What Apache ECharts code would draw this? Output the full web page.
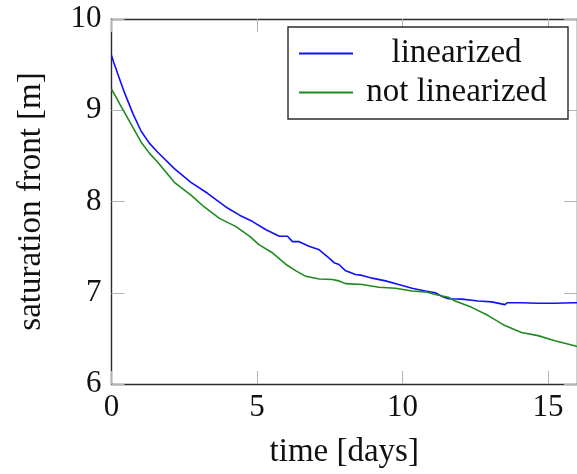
<!DOCTYPE html>
<html>
<head>
<meta charset="utf-8">
<script src="https://cdn.jsdelivr.net/npm/echarts@6/dist/echarts.min.js"></script>
<style>
  html, body { margin: 0; padding: 0; background: #fff; }
  #chart { width: 577px; height: 474px; }
</style>
</head>
<body>
<div id="chart"></div>
<script>
// Time axis samples (days) and the saturation front position (m) for each model
const timeLinearized = [0, 0.08, 0.16, 0.28, 0.45, 0.74, 1.02, 1.30, 1.59, 2.16, 2.73, 3.30, 3.93, 4.40, 4.85, 5.31, 5.77, 6.05, 6.22, 6.45, 6.79, 7.14, 7.48, 7.65, 7.82, 8.05, 8.39, 8.62, 8.96, 9.42, 9.87, 10.33, 10.79, 11.13, 11.36, 11.58, 12.04, 12.61, 13.07, 13.52, 13.60, 14.09, 14.66, 15.24, 15.92, 16.0];
const frontLinearized = [9.60, 9.52, 9.45, 9.34, 9.19, 8.96, 8.77, 8.64, 8.54, 8.36, 8.21, 8.09, 7.94, 7.85, 7.78, 7.69, 7.62, 7.62, 7.56, 7.56, 7.51, 7.47, 7.38, 7.33, 7.31, 7.24, 7.20, 7.19, 7.16, 7.13, 7.09, 7.05, 7.02, 7.00, 6.96, 6.935, 6.93, 6.91, 6.90, 6.87, 6.89, 6.89, 6.885, 6.885, 6.89, 6.89];

const timeNotLinearized = [0, 0.16, 0.28, 0.45, 0.74, 1.02, 1.30, 1.59, 2.16, 2.73, 3.19, 3.71, 4.28, 4.74, 5.08, 5.54, 6.00, 6.34, 6.68, 7.14, 7.59, 7.82, 8.05, 8.62, 9.19, 9.76, 10.33, 10.79, 11.13, 11.58, 11.81, 12.38, 12.95, 13.52, 14.09, 14.66, 15.24, 15.92, 16.0];
const frontNotLinearized = [9.23, 9.14, 9.07, 8.975, 8.81, 8.65, 8.53, 8.43, 8.21, 8.07, 7.94, 7.815, 7.725, 7.62, 7.525, 7.435, 7.31, 7.24, 7.18, 7.15, 7.145, 7.13, 7.10, 7.09, 7.06, 7.05, 7.02, 7.01, 6.98, 6.95, 6.91, 6.84, 6.75, 6.64, 6.565, 6.53, 6.475, 6.42, 6.41];

const xTicks = [0, 5, 10, 15];
const yTicks = [6, 7, 8, 9, 10];

const seriesNames = ['linearized', 'not linearized'];

const pair = (xs, ys) => xs.map((x, i) => [x, ys[i]]);

const serif = '"Liberation Serif", "DejaVu Serif", serif';
const tickStyle = { show: true, inside: true, length: 13, lineStyle: { color: '#b4b4b4', width: 1 } };
const frameLine = { show: true, onZero: false, lineStyle: { color: '#2b2b2b', width: 1.4 } };

const chart = echarts.init(document.getElementById('chart'), null, { renderer: 'canvas' });
chart.setOption({
  animation: false,
  backgroundColor: '#ffffff',
  grid: { left: 111.5, top: 19, width: 467.5, height: 368, containLabel: false },
  legend: {
    orient: 'vertical',
    left: 288,
    top: 27,
    data: seriesNames,
    icon: 'rect',
    itemWidth: 54,
    itemHeight: 2,
    itemGap: 6,
    padding: [10, 17, 10, 11],
    borderColor: '#2b2b2b',
    borderWidth: 1.4,
    backgroundColor: '#ffffff',
    formatter: name => '{n|' + name + '}',
    textStyle: {
      fontFamily: serif,
      color: '#111',
      rich: {
        n: { fontFamily: serif, fontSize: 33, color: '#111', width: 189, align: 'center', lineHeight: 34, padding: [0, 0, 0, 4] }
      }
    }
  },
  xAxis: [
    {
      type: 'value', min: 0, max: 16, interval: 5, position: 'bottom',
      name: 'time [days]', nameLocation: 'middle', nameGap: 52,
      nameTextStyle: { fontFamily: serif, fontSize: 33, color: '#111' },
      axisLine: frameLine,
      axisTick: Object.assign({ customValues: xTicks }, tickStyle),
      axisLabel: { customValues: xTicks, fontFamily: serif, fontSize: 31, color: '#111', margin: 8 },
      splitLine: { show: false }
    },
    {
      type: 'value', min: 0, max: 16, interval: 5, position: 'top',
      axisLine: frameLine,
      axisTick: Object.assign({ customValues: xTicks }, tickStyle),
      axisLabel: { show: false },
      splitLine: { show: false }
    }
  ],
  yAxis: [
    {
      type: 'value', min: 6, max: 10, interval: 1, position: 'left',
      name: 'saturation front [m]', nameLocation: 'middle', nameGap: 64,
      nameTextStyle: { fontFamily: serif, fontSize: 33, color: '#111' },
      axisLine: frameLine,
      axisTick: Object.assign({ customValues: yTicks }, tickStyle),
      axisLabel: { customValues: yTicks, fontFamily: serif, fontSize: 31, color: '#111', margin: 10 },
      splitLine: { show: false }
    },
    {
      type: 'value', min: 6, max: 10, interval: 1, position: 'right',
      axisLine: frameLine,
      axisTick: Object.assign({ customValues: yTicks }, tickStyle),
      axisLabel: { show: false },
      splitLine: { show: false }
    }
  ],
  series: [
    {
      name: seriesNames[0], type: 'line', xAxisIndex: 0, yAxisIndex: 0,
      data: pair(timeLinearized, frontLinearized),
      showSymbol: false, smooth: false,
      lineStyle: { color: '#1010ff', width: 1.6 },
      itemStyle: { color: '#1010ff' }
    },
    {
      name: seriesNames[1], type: 'line', xAxisIndex: 0, yAxisIndex: 0,
      data: pair(timeNotLinearized, frontNotLinearized),
      showSymbol: false, smooth: false,
      lineStyle: { color: '#1f8a1f', width: 1.6 },
      itemStyle: { color: '#1f8a1f' }
    }
  ]
});
</script>
</body>
</html>
